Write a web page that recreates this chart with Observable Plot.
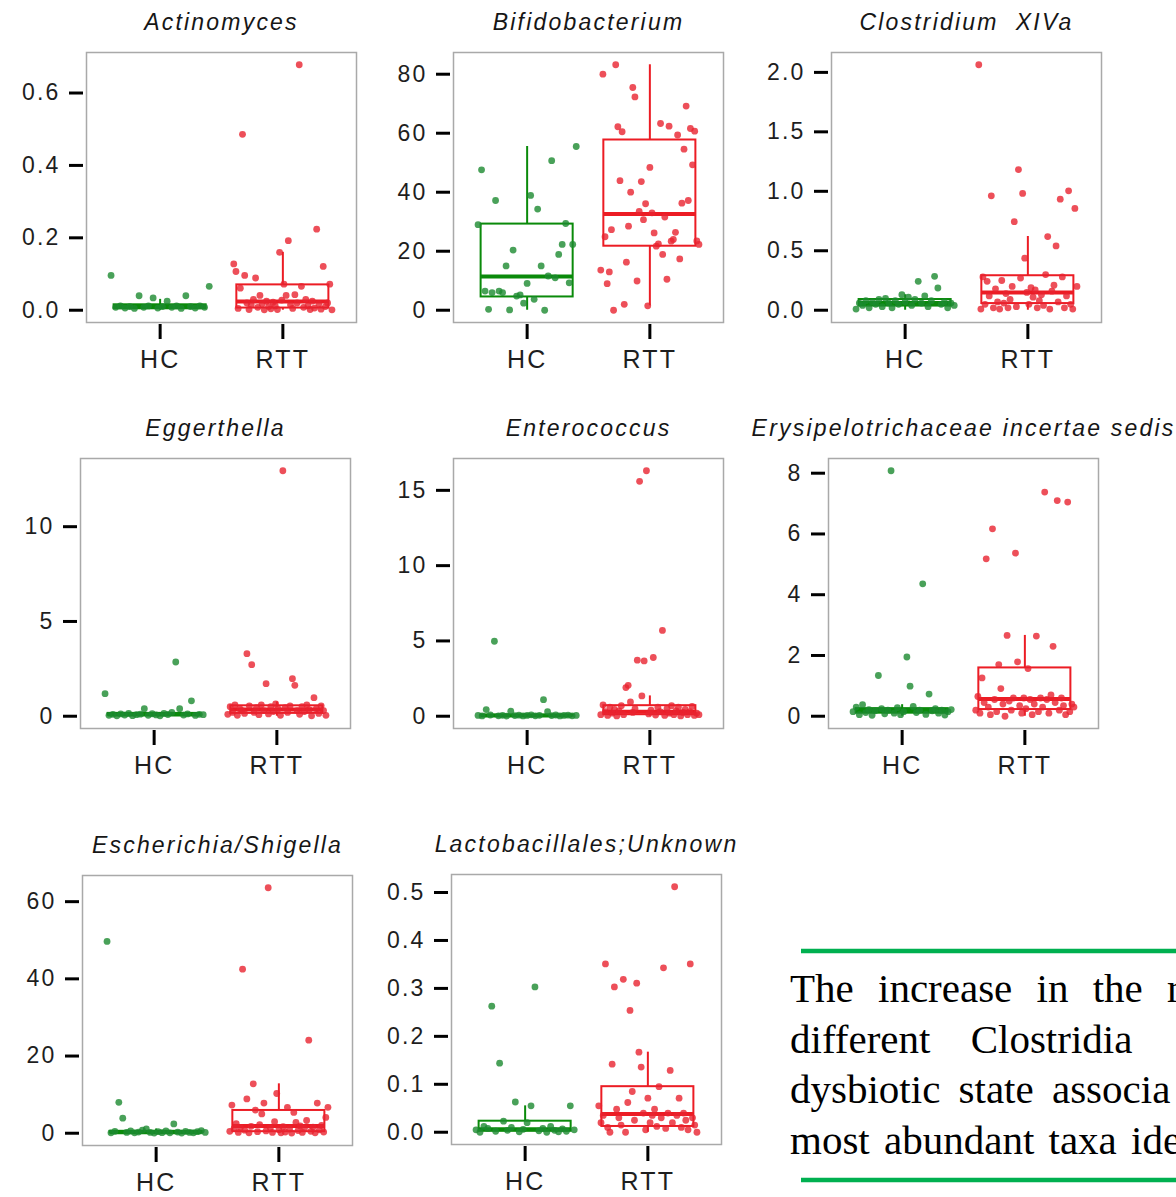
<!DOCTYPE html>
<html>
<head>
<meta charset="utf-8">
<script src="https://cdn.jsdelivr.net/npm/d3@7"></script>
<script src="https://cdn.jsdelivr.net/npm/@observablehq/plot@0.6"></script>
<style>
  body { margin: 0; background: #fff; }
  #wrap { position: relative; width: 1176px; height: 1197px; overflow: hidden; background: #fff; }
  #wrap > svg { position: absolute; }
</style>
</head>
<body>
<div id="wrap"></div>
<script>
// ---------------- data ----------------
const groups = ["HC", "RTT"];
const taxa = ["Actinomyces", "Bifidobacterium", "Clostridium  XIVa", "Eggerthella", "Enterococcus",
  "Erysipelotrichaceae incertae sedis", "Escherichia/Shigella", "Lactobacillales;Unknown"];

// individual samples (listed in their left-to-right order in the picture)
const actinomycesHC = [0.096,0.008,0.012,0.006,0.010,0.005,0.040,0.008,0.012,0.034,0.006,0.010,0.025,0.008,0.012,0.005,0.040,0.010,0.006,0.012,0.008,0.066];
const actinomycesRTT = [0.128,0.107,0.005,0.061,0.486,0.096,0.020,0.002,0.015,0.030,0.089,0.008,0.041,0.018,0.001,0.025,0.010,0.004,0.022,0.012,0.002,0.160,0.028,0.072,0.041,0.192,0.015,0.005,0.043,0.020,0.678,0.066,0.008,0.030,0.012,0.002,0.025,0.006,0.224,0.018,0.003,0.121,0.010,0.020,0.072,0.001];

const bifidobacteriumHC = [29.0,47.6,6.5,0.3,6.0,37.2,6.5,6.0,15.0,0.1,20.4,4.8,5.2,2.4,9.1,38.9,3.7,34.3,15.0,0.0,11.6,50.7,11.0,18.9,22.3,29.4,9.3,22.3,55.5];
const bifidobacteriumRTT = [13.6,80.0,24.9,9.0,13.0,27.3,0.0,83.2,62.2,43.9,60.5,2.0,16.3,28.5,40.0,75.5,72.3,9.9,33.5,43.6,30.7,36.1,1.5,48.4,33.0,26.2,21.7,22.5,63.3,18.9,31.6,10.5,62.4,23.4,24.0,26.4,59.4,17.4,36.3,54.6,69.2,37.2,61.6,49.3,60.7,23.5,22.3];

const clostridiumHC = [0.01,0.06,0.04,0.08,0.02,0.07,0.05,0.09,0.03,0.10,0.06,0.02,0.08,0.05,0.13,0.07,0.11,0.04,0.09,0.243,0.06,0.12,0.03,0.08,0.285,0.187,0.05,0.07,0.02,0.06,0.04];
const clostridiumRTT = [2.064,0.01,0.28,0.05,0.243,0.12,0.962,0.02,0.18,0.07,0.01,0.25,0.06,0.14,0.02,0.09,0.20,0.745,0.03,1.183,0.27,0.982,0.438,0.15,0.05,0.19,0.11,0.17,0.02,0.08,0.13,0.04,0.30,0.619,0.01,0.16,0.21,0.541,0.07,0.934,0.28,0.02,0.12,1.004,0.05,0.01,0.856,0.20];

const eggerthellaHC = [1.19,0.05,0.10,0.02,0.12,0.06,0.15,0.03,0.08,0.11,0.40,0.05,0.13,0.07,0.02,0.15,0.09,0.20,2.86,0.40,0.06,0.12,0.81,0.04,0.10,0.08];
const eggerthellaRTT = [0.10,0.50,0.20,0.60,0.05,0.40,0.30,0.15,3.30,0.55,2.72,0.20,0.45,0.08,0.60,0.30,1.72,0.12,0.50,0.25,0.65,0.38,0.05,12.95,0.45,0.20,0.55,1.98,1.63,0.30,0.10,0.50,0.25,0.60,0.35,0.02,0.98,0.40,0.15,0.55,0.30,0.05];

const enterococcusHC = [0.05,0.02,0.44,0.08,4.98,0.03,0.06,0.01,0.33,0.04,0.07,0.02,0.05,0.09,0.03,0.06,1.10,0.30,0.04,0.08,0.02,0.05,0.07,0.03,0.05];
const enterococcusRTT = [0.10,0.75,0.30,0.05,0.60,0.20,0.45,0.02,0.35,0.70,0.10,1.90,2.05,0.95,0.25,0.50,3.72,15.6,1.35,3.67,16.3,0.15,0.40,3.90,0.08,0.60,0.30,5.70,0.05,0.50,0.20,0.70,0.10,0.35,0.60,0.02,0.25,0.45,0.10,0.30,0.65,0.05,0.20,0.10];

const erysipelotrichaceaeHC = [0.15,0.30,0.05,0.38,0.12,0.22,0.03,0.18,1.34,0.25,0.08,0.20,8.08,0.10,0.28,0.05,0.15,1.95,0.99,0.32,0.12,0.20,4.36,0.06,0.73,0.18,0.25,0.10,0.20,0.04,0.15,0.22];
const erysipelotrichaceaeRTT = [0.20,0.65,0.10,1.26,0.45,5.18,0.30,0.05,6.17,0.55,0.15,1.70,0.91,0.40,0.00,2.66,0.50,0.20,0.60,5.37,1.79,0.35,0.10,0.60,0.25,1.57,0.55,0.05,0.40,2.64,0.15,0.60,0.30,7.38,0.55,0.10,0.70,2.30,0.45,7.10,0.20,0.60,0.35,0.05,7.05,0.15,0.40,0.30];

const escherichiaHC = [49.7,0.1,0.5,8.0,3.9,0.2,0.6,0.1,0.3,0.8,1.1,0.2,0.05,0.4,0.15,0.6,0.1,2.4,0.3,0.05,0.5,0.2,0.1,0.4,0.7,0.2];
const escherichiaRTT = [0.5,7.3,1.2,2.5,0.2,1.5,42.5,0.8,8.9,0.1,1.8,12.8,6.0,0.4,2.2,5.0,7.8,0.6,63.6,1.4,0.2,3.0,10.3,0.9,0.1,1.7,0.3,6.7,1.1,0.05,5.4,2.8,0.7,1.9,0.2,1.3,3.3,24.1,0.5,1.6,0.1,7.8,0.9,2.0,0.3,4.1,6.7];

const lactobacillalesHC = [0.005,0.0,0.012,0.008,0.263,0.002,0.144,0.023,0.004,0.010,0.063,0.001,0.006,0.020,0.055,0.303,0.003,0.008,0.0,0.012,0.004,0.001,0.007,0.002,0.055,0.005];
const lactobacillalesRTT = [0.055,0.020,0.035,0.351,0.010,0.0,0.142,0.303,0.048,0.030,0.015,0.319,0.0,0.062,0.254,0.085,0.025,0.311,0.167,0.136,0.040,0.005,0.071,0.020,0.035,0.048,0.012,0.095,0.030,0.343,0.008,0.040,0.129,0.020,0.512,0.035,0.071,0.010,0.040,0.025,0.005,0.351,0.030,0.015,0.0];

// box statistics [lower whisker, Q1, median, Q3, upper whisker]
const actinomycesBoxHC = [0, 0.004, 0.009, 0.015, 0.03];
const actinomycesBoxRTT = [0, 0.006, 0.024, 0.07, 0.16];
const bifidobacteriumBoxHC = [0, 4.5, 11.4, 29.2, 55.5];
const bifidobacteriumBoxRTT = [1.5, 21.7, 32.6, 57.7, 83.2];
const clostridiumBoxHC = [0, 0.035, 0.06, 0.09, 0.13];
const clostridiumBoxRTT = [0, 0.056, 0.15, 0.29, 0.62];
const eggerthellaBoxHC = [0, 0.05, 0.09, 0.15, 0.2];
const eggerthellaBoxRTT = [0, 0.15, 0.35, 0.55, 0.75];
const enterococcusBoxHC = [0, 0.03, 0.05, 0.07, 0.1];
const enterococcusBoxRTT = [0, 0.1, 0.3, 0.7, 1.35];
const erysipelotrichaceaeBoxHC = [0, 0.1, 0.17, 0.25, 0.38];
const erysipelotrichaceaeBoxRTT = [0, 0.22, 0.57, 1.59, 2.66];
const escherichiaBoxHC = [0, 0.1, 0.25, 0.5, 1.1];
const escherichiaBoxRTT = [0, 0.4, 1.9, 5.9, 12.8];
const lactobacillalesBoxHC = [0, 0.002, 0.006, 0.023, 0.055];
const lactobacillalesBoxRTT = [0, 0.012, 0.038, 0.095, 0.167];

// y tick labels per panel
const actinomycesTicks = [0, 0.2, 0.4, 0.6];
const bifidobacteriumTicks = [0, 20, 40, 60, 80];
const clostridiumTicks = [0, 0.5, 1.0, 1.5, 2.0];
const eggerthellaTicks = [0, 5, 10];
const enterococcusTicks = [0, 5, 10, 15];
const erysipelotrichaceaeTicks = [0, 2, 4, 6, 8];
const escherichiaTicks = [0, 20, 40, 60];
const lactobacillalesTicks = [0, 0.1, 0.2, 0.3, 0.4, 0.5];
const tickDecimals = [1, 0, 1, 0, 0, 0, 0, 1];

// side note text (cropped in the original)
const noteLines = ["The increase in the r", "different Clostridia", "dysbiotic state associa", "most abundant taxa ide"];

// ---------------- layout & style ----------------
const frameOrigins = [[86,52],[453,52],[831,52],[80,458],[453,458],[828,458],[82,875],[451,874]];
const FW = 270, FH = 270, ML = 80, MR = 80, MT = 52, MB = 62;
const boxStroke = ["#0a8a0a", "#ec1c24"];
const dotFill = ["#1c8a30", "#e8232f"];
const sans = "'Liberation Sans', Arial, Helvetica, sans-serif";

const panels = [
  [actinomycesHC, actinomycesRTT, actinomycesBoxHC, actinomycesBoxRTT, actinomycesTicks],
  [bifidobacteriumHC, bifidobacteriumRTT, bifidobacteriumBoxHC, bifidobacteriumBoxRTT, bifidobacteriumTicks],
  [clostridiumHC, clostridiumRTT, clostridiumBoxHC, clostridiumBoxRTT, clostridiumTicks],
  [eggerthellaHC, eggerthellaRTT, eggerthellaBoxHC, eggerthellaBoxRTT, eggerthellaTicks],
  [enterococcusHC, enterococcusRTT, enterococcusBoxHC, enterococcusBoxRTT, enterococcusTicks],
  [erysipelotrichaceaeHC, erysipelotrichaceaeRTT, erysipelotrichaceaeBoxHC, erysipelotrichaceaeBoxRTT, erysipelotrichaceaeTicks],
  [escherichiaHC, escherichiaRTT, escherichiaBoxHC, escherichiaBoxRTT, escherichiaTicks],
  [lactobacillalesHC, lactobacillalesRTT, lactobacillalesBoxHC, lactobacillalesBoxRTT, lactobacillalesTicks]
];

const wrap = document.getElementById("wrap");

panels.forEach(([hc, rtt, bHC, bRTT, ticks], i) => {
  const series = [hc, rtt];
  const stats = [bHC, bRTT];
  const all = [...hc, ...rtt, ...bHC, ...bRTT];
  const lo = d3.min(all), hi = d3.max(all), pad = 0.05 * (hi - lo);
  const marks = [Plot.frame({stroke: "#a9a9a9", strokeWidth: 1.5})];
  series.forEach((vals, g) => {
    const n = vals.length;
    const pts = vals.map((v, k) => ({x: g + 1 - 0.4 + 0.8 * k / (n - 1), v}));
    const s = stats[g];
    const b = [{x: g + 1, lo: s[0], q1: s[1], med: s[2], q3: s[3], hi: s[4]}];
    marks.push(
      Plot.ruleX(b, {x: "x", y1: "lo", y2: "q1", stroke: boxStroke[g], strokeWidth: 2}),
      Plot.ruleX(b, {x: "x", y1: "q3", y2: "hi", stroke: boxStroke[g], strokeWidth: 2}),
      Plot.rect(b, {x1: d => d.x - 0.375, x2: d => d.x + 0.375, y1: "q1", y2: "q3", fill: "none", stroke: boxStroke[g], strokeWidth: 2}),
      Plot.ruleY(b, {y: "med", x1: d => d.x - 0.375, x2: d => d.x + 0.375, stroke: boxStroke[g], strokeWidth: 4}),
      Plot.dot(pts, {x: "x", y: "v", r: 3.4, fill: dotFill[g], fillOpacity: 0.8, stroke: null})
    );
  });
  const fmt = tickDecimals[i] ? d3.format(".1f") : d3.format("d");
  marks.push(
    Plot.axisY({ticks, tickFormat: fmt, tickSize: 14, tickPadding: 9, dx: -3, stroke: "#000", strokeWidth: 3,
      color: "#1e1e1e", fontSize: 23, fontFamily: sans, label: null}),
    Plot.axisX({ticks: [1, 2], tickFormat: d => groups[d - 1], tickSize: 15, tickPadding: 11, dy: 2, stroke: "#000",
      strokeWidth: 3, color: "#1e1e1e", fontSize: 25, fontFamily: sans, label: null}),
    Plot.text([taxa[i]], {frameAnchor: "top", lineAnchor: "middle", dy: -30, fontSize: 23, fontStyle: "italic",
      fontFamily: sans, fill: "#161616"})
  );
  const svg = Plot.plot({
    width: ML + FW + MR, height: MT + FH + MB,
    marginLeft: ML, marginRight: MR, marginTop: MT, marginBottom: MB,
    x: {domain: [0.4, 2.6]},
    y: {domain: [lo - pad, hi + pad]},
    style: {background: "transparent", overflow: "visible", letterSpacing: "2.2px", fontFamily: sans},
    marks
  });
  svg.style.left = (frameOrigins[i][0] - ML) + "px";
  svg.style.top = (frameOrigins[i][1] - MT) + "px";
  svg.style.maxWidth = "none";
  wrap.appendChild(svg);
});

// side note box
const note = d3.select(wrap).append("svg")
  .attr("width", 1176).attr("height", 1197)
  .style("left", "0px").style("top", "0px").style("pointer-events", "none");
note.append("line").attr("x1", 801).attr("x2", 1176).attr("y1", 951).attr("y2", 951)
  .attr("stroke", "#00b050").attr("stroke-width", 4.5);
note.append("line").attr("x1", 801).attr("x2", 1176).attr("y1", 1180).attr("y2", 1180)
  .attr("stroke", "#00b050").attr("stroke-width", 4.5);
const wordSpacing = [14, 30, 8, 4];
noteLines.forEach((t, k) => {
  note.append("text").attr("x", 790).attr("y", 1002 + k * 50.5)
    .style("font-family", "'Liberation Serif', 'Times New Roman', serif")
    .style("font-size", "41px").style("word-spacing", wordSpacing[k] + "px")
    .style("white-space", "pre").attr("fill", "#000").text(t);
});
</script>
</body>
</html>
